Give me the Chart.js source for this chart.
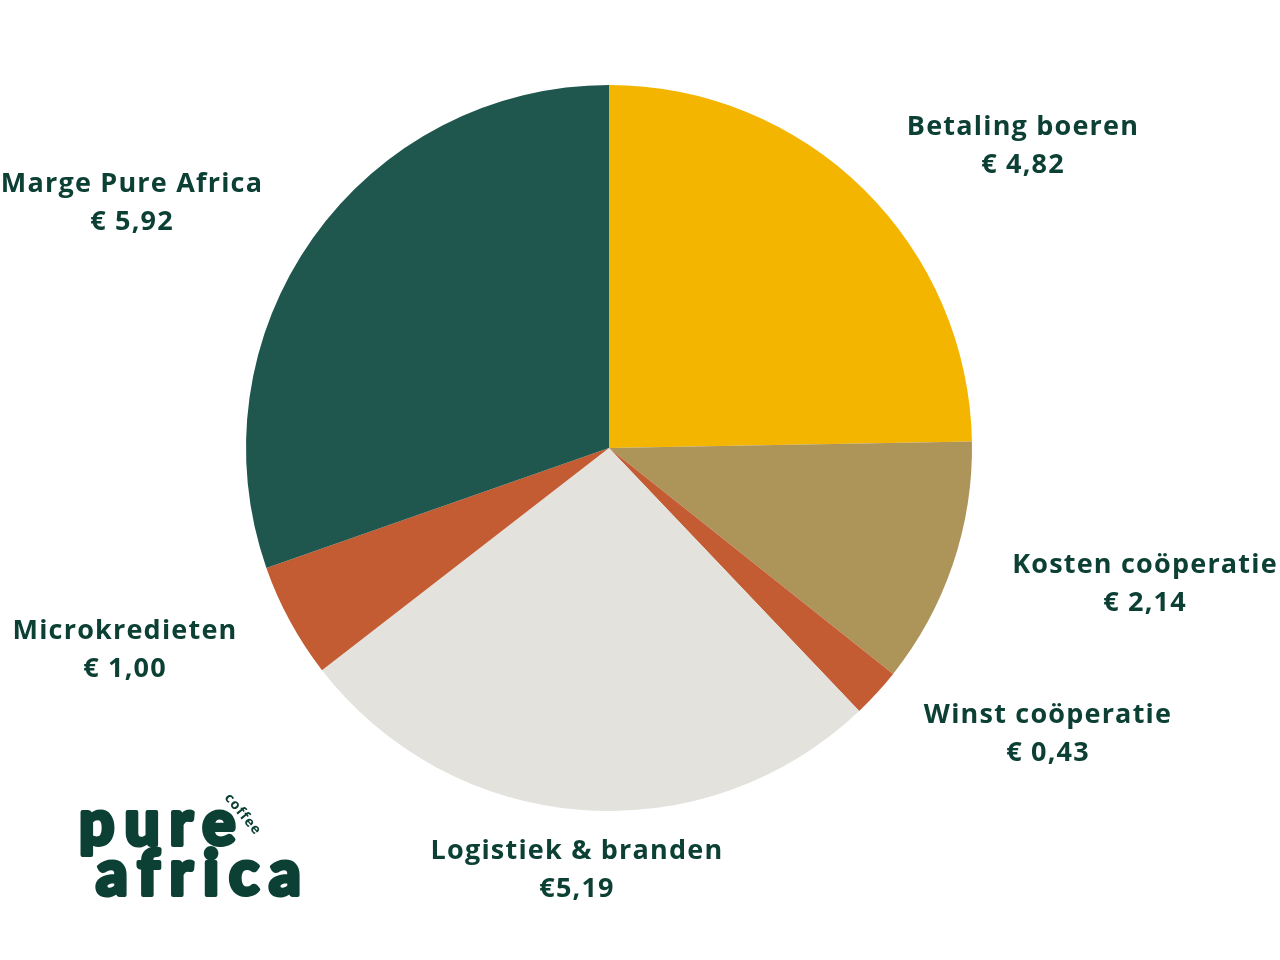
<!DOCTYPE html>
<html>
<head>
<meta charset="utf-8">
<script src="https://cdn.jsdelivr.net/npm/chart.js@4.4.1/dist/chart.umd.min.js"></script>
<style>
  html, body { margin: 0; padding: 0; background: #ffffff; }
  #wrap { width: 1280px; height: 960px; position: relative; }
</style>
</head>
<body>
<div id="wrap"><canvas id="pie" width="1280" height="960"></canvas></div>
<script>
// Price breakdown of a pack of Pure Africa coffee, clockwise from 12 o'clock.
const labels = ["Betaling boeren", "Kosten coöperatie", "Winst coöperatie", "Logistiek & branden", "Microkredieten", "Marge Pure Africa"];
const values = [4.82, 2.14, 0.43, 5.19, 1.00, 5.92];
const valueText = ["€ 4,82", "€ 2,14", "€ 0,43", "€5,19", "€ 1,00", "€ 5,92"];

const COLORS = ["#f3b500", "#ad9459", "#c45c33", "#e3e2dd", "#c45c33", "#1f574e"];
const INK = "#0d4034";
const FONT = "'Open Sans', 'DejaVu Sans', sans-serif";

// label anchor points (centre of the first line)
const LABEL_AT = [
  [1023, 127], [1145, 565], [1048, 715], [577, 851], [125, 631], [132, 184],
];

const labelPlugin = {
  id: "sliceLabels",
  afterDraw(chart) {
    const ctx = chart.ctx;
    ctx.save();
    ctx.fillStyle = INK;
    ctx.strokeStyle = INK;
    ctx.textAlign = "center";
    ctx.textBaseline = "middle";
    ctx.font = `bold 27px ${FONT}`;
    ctx.letterSpacing = "1.2px";
    labels.forEach((name, i) => {
      const [x, y] = LABEL_AT[i];
      ctx.fillText(name, x, y);
      ctx.fillText(valueText[i], x, y + 38);
    });

    // logo, thickened with a stroke to get closer to the heavy wordmark
    ctx.textAlign = "left";
    ctx.textBaseline = "alphabetic";
    ctx.font = `900 62px 'Lato', ${FONT}`;
    ctx.lineWidth = 4;
    ctx.lineJoin = "round";
    [["pure", 79, 845, "10px"], ["africa", 96, 895, "10px"]].forEach(([t, x, y, ls]) => {
      ctx.letterSpacing = ls;
      ctx.strokeText(t, x, y);
      ctx.fillText(t, x, y);
    });
    ctx.font = `bold 14px ${FONT}`;
    ctx.letterSpacing = "1px";
    ctx.translate(224, 798);
    ctx.rotate(Math.PI * 0.28);
    ctx.fillText("coffee", 0, 0);
    ctx.restore();
  },
};

new Chart(document.getElementById("pie"), {
  type: "pie",
  data: {
    labels,
    datasets: [{ data: values, backgroundColor: COLORS, borderWidth: 0 }],
  },
  options: {
    responsive: false,
    animation: false,
    layout: { padding: { left: 246, right: 308, top: 85, bottom: 149 } },
    plugins: { legend: { display: false }, tooltip: { enabled: false } },
  },
  plugins: [labelPlugin],
});
</script>
</body>
</html>
